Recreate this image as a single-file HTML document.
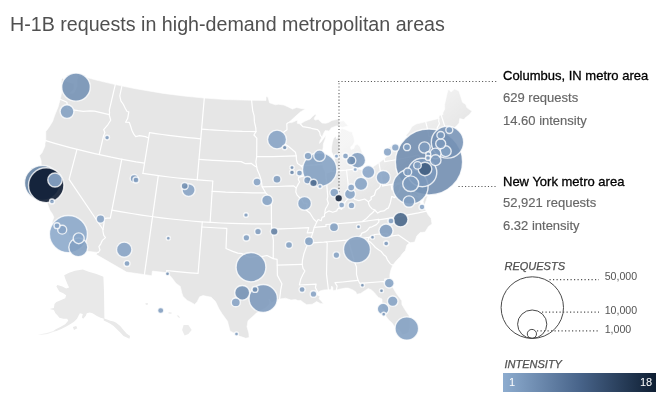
<!DOCTYPE html>
<html><head><meta charset="utf-8"><title>H-1B requests in high-demand metropolitan areas</title>
<style>
html,body{margin:0;padding:0;background:#fff;}
body{width:667px;height:409px;position:relative;overflow:hidden;font-family:"Liberation Sans",Arial,Helvetica,sans-serif;}
.t{position:absolute;white-space:nowrap;line-height:1;margin:0;}
h1.t{font-weight:normal;font-size:19.66px;color:#505050;left:10px;top:15px;letter-spacing:0px}
.n{font-size:13px;color:#000;left:503px;-webkit-text-stroke:0.3px #000;}
.d{font-size:13px;color:#666;left:503px;-webkit-text-stroke:0.15px #666;}
.l{font-size:11px;font-style:italic;color:#505050;left:504.5px;-webkit-text-stroke:0.25px #505050;}
.k{font-size:10.6px;color:#555;left:604.7px;}
.b{font-size:11px;color:#fff;}
</style></head><body>
<svg width="667" height="409" viewBox="0 0 667 409" style="position:absolute;left:0;top:0">
<defs><linearGradient id="fade" gradientUnits="userSpaceOnUse" x1="339" y1="81" x2="403.35" y2="170.2"><stop offset="0" stop-color="#fff" stop-opacity="0.62"/><stop offset="0.5" stop-color="#fff" stop-opacity="0.62"/><stop offset="1" stop-color="#fff" stop-opacity="0"/></linearGradient>
<linearGradient id="bar" x1="0" y1="0" x2="1" y2="0"><stop offset="0" stop-color="#8daccf"/><stop offset="0.5" stop-color="#48648a"/><stop offset="1" stop-color="#0e1e32"/></linearGradient></defs>
<g fill="#e9e9e9" stroke="none">
<path d="M82.8,269.4L88.7,271.8L96.5,274.1L103.4,276.7L104.0,291.4L104.4,318.8L100.5,317.8L96.5,315.8L92.6,313.3L89.7,312.5L86.8,313.3L85.8,315.8L83.2,318.8L81.9,317.4L82.8,313.9L79.9,313.3L78.5,315.8L77.0,318.8L74.0,321.7L70.1,324.2L66.2,326.6L61.3,328.9L56.4,330.9L52.5,331.7L55.4,329.5L60.3,327.0L65.2,324.2L68.2,320.7L67.2,318.8L63.3,318.8L59.4,317.8L57.4,315.2L55.4,313.3L53.9,309.9L49.6,309.0L53.9,308.0L54.5,304.1L56.4,302.1L59.4,300.7L62.3,299.6L65.2,298.2L66.2,295.3L63.3,293.3L59.4,291.4L56.4,286.5L57.4,285.1L62.3,286.5L66.2,288.4L69.1,287.4L67.2,283.5L65.2,278.6L64.2,275.3L69.1,272.8L75.0,270.8Z"/>
<path d="M103.7,318.3L107.0,319.4L110.3,320.7L113.6,321.6L116.2,322.7L120.2,326.0L123.5,330.0L126.8,333.7L130.1,335.9L129.4,338.8L126.8,337.4L123.5,335.9L120.2,332.6L116.9,329.3L113.6,326.0L110.3,323.8L107.0,322.0L103.7,320.5Z"/>
<path d="M72.9,327.1L76.2,326.0L77.3,328.2L74.0,330.0Z"/>
<path d="M183.6,324.9L188.4,324.9L191.7,329.9L188.4,334.1L184.6,335.5L182.1,329.9Z" fill="#ebebeb"/>
<path d="M176.7,315.3L178.8,315.8L180.2,317.9L178.2,317.3Z" fill="#ebebeb"/>
<path d="M145.3,303.2L147.9,302.9L147.6,305.0L145.9,304.7Z" fill="#ebebeb"/>
<path d="M168.5,312.3L171.7,312.6L171.4,313.8L168.5,313.5Z" fill="#ebebeb"/>
<path d="M56.4,330.5L53.1,330.9L47.6,332.8L41.7,334.0L37.8,334.8L41.7,334.8L47.6,334.0L53.1,332.1Z" fill="#f0f0f0"/>
</g>
<path d="M62.4,78.1L65.3,80.5L69.9,82.4L72.9,83.3L74.3,83.3L74.3,85.8L74.2,88.9L71.9,91.5L70.3,93.2L72.5,93.3L74.3,92.2L75.5,89.3L76.9,86.0L77.0,82.9L76.6,80.6L77.8,77.8L76.6,74.8L95.2,79.8L115.3,84.6L135.9,88.8L163.3,93.4L183.9,96.0L204.3,98.1L225.4,99.5L251.6,100.3L266.0,100.4L266.0,96.5L268.0,97.1L269.5,102.8L275.5,104.8L278.3,104.2L283.9,105.0L288.2,106.9L292.5,109.1L296.6,107.5L302.3,108.7L305.5,109.0L300.4,111.9L295.0,116.8L290.9,120.6L288.1,122.7L291.7,122.6L295.9,120.8L297.7,120.2L297.2,123.3L300.4,124.0L304.6,121.3L310.2,118.9L312.2,116.7L315.2,114.2L316.3,114.9L314.7,117.5L314.1,119.1L315.3,120.1L318.1,119.3L322.1,123.1L325.7,123.3L328.5,122.5L331.9,120.4L336.2,119.6L339.3,118.6L339.7,121.3L343.9,120.8L345.7,123.2L347.8,125.5L350.7,125.1L347.9,126.0L342.2,127.5L339.9,126.4L336.2,126.0L331.3,127.9L329.1,131.2L327.9,130.8L326.4,130.7L325.3,130.5L323.7,133.2L321.9,137.5L320.0,140.8L319.5,143.4L321.5,141.2L323.8,137.9L326.1,135.3L325.1,139.3L323.3,144.1L323.2,147.2L322.4,151.4L321.4,157.2L322.8,164.3L323.1,167.4L324.9,170.9L326.3,172.8L328.2,172.8L330.8,171.4L333.1,167.5L334.6,163.2L334.6,159.6L333.5,156.1L331.5,151.6L331.5,148.0L332.4,142.2L333.5,138.5L335.5,136.2L336.9,139.1L337.8,137.0L338.2,133.8L340.6,132.5L340.0,130.0L342.0,128.5L345.4,129.4L349.4,131.5L352.4,132.1L352.7,134.7L353.8,137.1L354.5,141.7L353.0,145.0L350.6,146.9L351.0,149.4L353.9,148.5L354.9,145.3L357.4,144.2L360.1,146.7L361.9,151.6L363.0,154.6L362.9,158.3L360.8,159.6L359.2,162.2L358.8,165.1L357.0,168.7L360.6,169.5L363.1,170.7L367.0,170.2L370.7,169.1L374.2,166.0L379.0,162.8L381.9,160.6L384.2,158.9L388.0,155.3L389.7,151.9L387.8,147.8L391.7,146.1L398.5,145.8L403.7,144.5L406.3,142.2L408.3,140.9L407.6,137.4L406.0,135.3L409.3,131.3L412.0,126.5L416.0,124.0L425.7,121.7L438.9,118.4L439.0,116.1L441.1,114.7L442.9,114.8L442.8,113.0L444.7,109.0L444.6,104.7L445.2,101.7L447.9,89.9L449.3,89.8L451.0,92.0L454.6,89.0L458.9,90.9L462.5,102.3L465.8,104.5L466.8,107.6L468.2,108.6L471.1,110.4L471.8,111.3L470.0,114.0L468.1,115.6L465.6,117.5L463.9,119.6L459.7,118.6L459.1,123.1L456.5,126.0L454.6,127.6L451.6,129.5L451.2,132.3L450.6,135.6L449.8,138.3L451.8,140.1L450.0,142.2L449.7,143.9L452.0,144.9L453.4,147.2L455.0,148.7L458.7,147.6L457.7,145.5L456.4,145.1L458.1,145.4L459.5,148.2L456.9,149.7L454.6,151.4L453.7,149.5L451.3,152.6L448.8,152.2L448.6,154.7L446.2,156.0L444.3,156.5L438.4,158.5L434.0,161.9L432.5,164.2L434.7,162.9L438.4,161.7L441.4,160.7L443.6,158.3L443.6,159.9L446.6,158.4L442.5,162.0L436.9,165.5L432.1,167.3L431.1,166.6L430.0,168.5L432.0,168.6L432.7,173.2L432.9,175.8L431.5,180.2L428.2,185.6L428.0,183.0L425.4,182.3L422.0,179.8L421.9,181.4L424.3,184.6L427.3,187.1L428.5,190.6L428.2,194.4L427.4,196.7L426.2,200.6L424.2,205.6L423.1,201.8L424.2,197.4L422.4,196.7L419.1,193.1L418.0,189.7L418.6,186.9L417.6,183.9L418.2,181.1L416.7,183.6L415.4,185.4L416.4,187.9L416.1,190.6L418.2,194.4L419.3,196.8L416.8,195.7L413.2,194.3L411.2,194.7L413.9,195.8L417.1,197.2L419.8,198.3L420.2,201.9L421.1,204.4L420.9,207.1L421.9,207.9L424.4,207.6L426.3,211.2L428.0,214.6L431.0,218.2L432.0,224.0L428.5,226.4L425.1,232.1L420.2,232.6L416.9,235.8L414.7,242.1L409.6,242.8L406.9,245.1L405.3,250.6L402.3,253.7L400.2,256.7L396.0,261.1L392.9,264.9L390.8,270.2L389.8,275.1L390.0,279.2L391.0,282.7L392.6,287.1L396.5,293.8L401.8,300.8L401.9,304.4L405.2,310.1L409.0,315.6L410.3,321.6L410.2,326.8L409.0,332.1L405.9,334.2L402.2,335.0L398.9,329.6L395.3,328.1L394.0,325.7L391.6,322.5L388.9,320.3L386.5,317.0L383.6,313.3L384.6,310.6L381.7,308.7L382.1,303.2L382.0,299.1L378.1,297.2L374.2,292.4L371.1,289.7L368.2,288.5L365.2,290.4L360.6,293.5L356.6,294.3L355.9,292.0L352.9,289.9L348.2,288.1L345.5,288.1L339.2,289.2L336.4,290.0L333.0,290.7L332.8,287.5L331.7,286.0L331.1,289.7L328.4,289.7L323.9,289.9L320.0,291.1L318.2,292.4L315.6,292.9L317.1,294.9L319.9,296.2L319.1,298.8L321.1,300.8L323.6,303.7L320.4,303.4L316.6,301.6L314.0,303.3L312.2,304.2L306.7,304.7L302.9,302.3L301.0,300.4L297.8,300.5L295.5,299.6L291.0,300.1L285.5,298.2L279.6,299.1L274.7,301.2L271.5,303.0L269.2,299.2L270.1,303.3L266.5,307.5L260.1,311.1L256.4,313.1L250.8,318.2L248.0,320.7L247.0,326.8L248.8,333.0L249.2,337.4L245.9,338.3L239.3,336.1L233.7,332.9L230.0,331.0L227.5,321.2L222.2,313.9L218.8,308.6L215.5,301.5L211.2,297.2L203.1,295.6L199.7,296.8L197.2,301.7L194.7,304.4L190.8,302.2L187.2,300.4L183.0,296.4L181.6,292.2L180.3,286.4L176.1,283.4L171.4,277.2L167.2,272.8L152.4,271.1L151.8,275.7L126.6,272.1L96.3,254.6L97.5,252.4L76.6,250.0L75.9,248.1L75.9,246.5L75.7,242.8L73.8,239.6L71.0,236.4L68.6,235.4L68.4,232.6L65.9,232.0L62.4,228.3L59.4,226.1L53.2,224.0L52.1,222.3L53.9,217.2L52.4,214.0L49.7,210.0L47.3,203.2L47.5,199.4L48.9,197.7L47.7,195.7L45.2,192.4L46.0,186.7L42.9,183.1L43.4,180.0L40.1,172.5L41.2,166.4L41.2,160.9L39.5,155.7L42.1,152.6L45.0,145.9L45.0,143.2L45.8,140.7L45.8,131.6L49.4,126.7L52.7,121.2L54.8,115.0L58.2,106.7L60.2,99.3L61.2,94.8L61.7,92.2L61.6,85.3L61.2,81.9L61.6,79.4Z" fill="#e6e6e6" stroke="#fff" stroke-width="0.6" stroke-linejoin="round"/>
<g fill="none" stroke="#fff" stroke-width="1.2" stroke-linejoin="round" stroke-linecap="round">
<path d="M60.2,99.3L64.2,101.0L66.9,102.3L67.4,105.6L67.4,108.1L70.8,109.6L78.1,110.7L83.2,111.3L90.1,110.9L94.5,111.2L109.2,114.6"/>
<path d="M115.3,84.6L109.3,110.2L109.6,112.9L109.2,114.6"/>
<path d="M109.2,114.6L110.7,120.2L107.8,124.8L103.7,129.7L104.9,132.6L103.5,136.0L99.2,154.6"/>
<path d="M45.8,140.7L53.9,143.1L62.0,145.4L70.2,147.6L78.4,149.7L86.5,151.7L94.8,153.6L103.0,155.4L111.3,157.2L119.6,158.8L127.9,160.3L136.2,161.8L144.5,163.1"/>
<path d="M77.0,149.3L69.1,179.4L103.0,229.5"/>
<path d="M111.9,210.1L110.3,218.2L107.2,218.1L104.1,218.6L104.0,223.3L103.0,229.5L102.9,231.0L103.8,235.4L105.5,237.6L102.3,240.4L100.8,243.8L98.9,246.6L100.0,250.0L98.4,252.5L97.5,252.4"/>
<path d="M121.8,159.2L111.9,210.1"/>
<path d="M111.9,210.1L121.7,211.9L131.6,213.5L141.5,215.1L151.5,216.5L161.4,217.8L171.4,219.0L181.3,220.0L191.3,221.0L201.3,221.8L211.3,222.4L221.4,223.0L231.4,223.4L241.4,223.7L251.4,223.9L261.5,223.9L271.5,223.8"/>
<path d="M121.9,86.0L119.8,95.9L120.9,100.9L123.4,104.5L125.2,108.2L127.1,111.5L128.8,111.8L127.7,118.4L125.6,122.2L129.3,122.4L130.5,125.7L131.9,130.2L133.8,134.2L135.7,136.6L139.6,135.7L145.4,136.6L148.6,138.0"/>
<path d="M149.5,132.6L142.9,173.4"/>
<path d="M149.5,132.6L155.9,133.6L162.3,134.5L168.7,135.3L175.1,136.1L181.5,136.9L187.9,137.6L194.3,138.2L200.8,138.8"/>
<path d="M142.9,173.4L151.6,174.7L160.3,175.9L169.0,177.0L177.7,178.0L186.5,178.9L195.3,179.7L204.0,180.4L212.8,181.0"/>
<path d="M204.3,98.1L197.2,179.9"/>
<path d="M201.6,129.1L208.4,129.7L215.2,130.1L222.0,130.5L228.8,130.9L235.6,131.1L242.4,131.4L249.2,131.5L256.0,131.6"/>
<path d="M199.0,159.3L206.0,159.8L213.0,160.3L220.0,160.7L227.0,161.1L234.1,161.4L241.1,161.6L245.6,163.7L251.0,163.3L254.7,165.9L256.7,167.1"/>
<path d="M212.1,191.3L218.8,191.7L225.5,192.1L232.2,192.3L238.9,192.5L245.6,192.7L252.3,192.8L259.0,192.8L265.7,192.8"/>
<path d="M212.8,181.0L210.1,222.4"/>
<path d="M158.3,175.6L144.4,274.7"/>
<path d="M202.3,221.8L198.1,273.4L198.1,273.4L190.2,272.8L182.3,272.1L174.5,271.3L166.6,270.5L167.2,272.8"/>
<path d="M201.9,227.0L210.2,227.5L218.5,228.0L226.8,228.4L226.0,248.5L232.7,251.4L237.8,253.1L242.1,253.7L249.7,257.5L254.9,256.5L261.8,256.5L267.0,255.5L273.2,258.6"/>
<path d="M271.5,223.8L271.6,229.0L273.4,240.4L273.2,258.6L277.1,259.4L277.4,275.4L279.6,279.5L281.9,283.8L280.7,289.8L280.4,292.9L279.6,299.1"/>
<path d="M277.2,265.1L285.5,264.9L293.8,264.6L302.2,264.3"/>
<path d="M271.6,229.0L280.9,228.8L290.2,228.5L299.5,228.1L308.8,227.6L307.2,232.9L312.8,232.6"/>
<path d="M271.5,223.8L271.3,201.9L268.9,199.5L267.3,194.4L265.7,192.8L262.1,186.6L261.3,180.4L259.3,174.2L257.4,170.1L256.7,167.1L255.9,161.8L256.7,156.7L256.8,138.1L253.9,135.0L256.0,131.6L255.8,127.9L254.4,121.9L254.1,115.6L252.8,111.2L252.1,105.4L251.6,100.3"/>
<path d="M256.7,156.7L264.6,156.6L272.5,156.6L280.4,156.4L288.3,156.1L296.2,155.8"/>
<path d="M262.1,186.8L270.0,186.7L277.9,186.5L285.8,186.2L293.7,185.9L296.2,188.0"/>
<path d="M288.1,122.7L286.8,123.7L287.0,129.7L283.8,132.1L282.9,135.0L284.7,136.7L284.1,141.3L283.8,143.4L287.6,145.8L290.7,148.3L295.4,152.2L296.2,155.8L296.5,159.9L297.5,163.5L301.0,165.8L303.1,168.3L305.3,172.3L302.8,176.1L298.6,177.4L298.3,179.4L299.6,182.0L298.5,183.6L296.2,188.0L295.8,192.0L297.1,195.1L301.8,200.0L303.6,203.0L306.8,203.3L307.1,205.6L306.0,210.1L309.9,213.0L313.6,219.0L316.7,221.9L315.6,224.6L314.2,227.3L312.8,232.6L311.1,237.9L310.3,241.7L308.5,243.2L306.2,247.5L303.9,253.8L302.5,260.1L302.2,264.3L303.0,268.3L304.9,271.0L302.9,274.5L300.7,279.3L299.4,285.0L299.4,285.0L307.7,284.6L316.1,284.1L315.4,287.6L317.3,291.2L318.2,292.4"/>
<path d="M300.4,124.0L302.8,126.6L310.1,127.8L312.4,128.7L317.6,129.6L319.6,132.0L320.2,135.1L321.9,137.5"/>
<path d="M301.0,165.8L308.3,165.4L315.6,164.9L322.8,164.3"/>
<path d="M325.6,172.2L327.8,196.6L327.1,199.3L328.4,203.5L326.9,206.6L325.5,208.8L324.9,211.9L325.2,212.9"/>
<path d="M316.7,221.9L318.2,219.5L321.1,220.8L322.1,217.4L324.5,216.4L324.5,214.0L325.2,212.9L328.8,210.9L332.8,212.3L336.7,210.9L337.4,209.2L338.9,208.0L341.5,209.3L343.2,206.4L345.5,201.3L349.7,197.0L352.3,196.7L355.0,199.5L358.8,200.6L364.7,199.0L368.4,201.7L371.3,199.4L371.0,197.1L374.4,195.3L375.5,191.8L376.0,190.3L379.3,187.7L380.2,186.0L380.7,182.6L381.1,179.1L381.3,176.5"/>
<path d="M379.0,162.8L382.8,185.9"/>
<path d="M384.2,158.9L384.7,161.7L384.7,161.7L391.4,160.5L398.1,159.3L404.8,158.0L411.4,156.6L418.1,155.2L421.3,158.8L424.5,160.7L422.2,165.2L422.3,168.6L424.0,170.9L426.9,172.9L424.6,176.1L422.5,177.6L422.0,179.8"/>
<path d="M349.7,197.0L346.5,170.2"/>
<path d="M328.1,171.5L334.2,171.2L340.4,170.7L346.5,170.2L357.0,168.6"/>
<path d="M314.2,227.3L326.0,226.4L325.9,224.5L325.9,224.5L333.1,224.1L340.4,223.5L347.7,222.9L354.9,222.3L362.2,221.6L362.2,221.6L370.4,220.5L378.7,219.4L378.7,219.8L386.7,218.6L394.6,217.3L402.6,215.9L410.5,214.4L418.4,212.9L426.3,211.2"/>
<path d="M362.2,221.6L366.6,218.4L369.5,215.3L372.5,212.8L374.8,210.0L371.9,208.7L369.9,206.4L368.8,204.3L368.4,201.7"/>
<path d="M378.7,219.4L378.9,221.9L376.4,224.6L372.0,226.8L369.6,227.4L367.4,230.3L365.1,231.9L361.9,233.1L361.2,234.2L360.9,235.6L358.9,236.6L359.0,238.8"/>
<path d="M369.3,237.3L361.7,238.3L354.1,239.2L346.5,240.1L338.9,240.8L331.3,241.5L323.7,242.2L316.1,242.7L308.5,243.2"/>
<path d="M369.3,237.3L374.8,234.5L386.2,233.3L386.4,234.3L387.3,233.7L388.9,236.4L398.4,235.0L409.6,242.8"/>
<path d="M369.3,237.3L367.8,240.5L370.9,242.6L373.4,245.1L375.4,247.5L378.9,250.1L381.3,251.6L384.0,255.1L386.0,256.4L387.4,259.8L390.2,263.6L391.8,264.9L392.9,264.9"/>
<path d="M348.2,240.0L354.3,261.4L356.5,267.0L356.5,270.2L356.5,274.3L357.3,277.3L358.1,280.3L359.7,283.3L383.6,281.5L385.2,283.4L384.8,279.2L390.0,279.2"/>
<path d="M358.1,280.3L350.4,281.2L342.7,282.0L335.0,282.7L337.1,286.1L336.4,290.0"/>
<path d="M326.2,242.0L327.2,242.9L326.5,274.1L328.4,289.7"/>
<path d="M382.8,185.9L390.3,184.7L397.7,183.4L405.1,182.0L412.5,180.5L419.9,179.0"/>
<path d="M391.0,184.5L392.0,189.8L394.5,186.6L396.8,184.3L399.7,184.0L401.2,182.9L404.0,183.4L405.5,186.1L407.9,186.7L411.8,189.3L410.8,194.8"/>
<path d="M405.5,186.1L405.1,188.2L400.4,185.6L399.7,190.6L397.6,193.4L394.8,197.6L391.7,196.4L390.4,202.7L388.4,208.0L386.5,208.9L383.9,210.9L380.2,211.4L377.7,213.1L374.8,210.0"/>
<path d="M419.9,179.0L423.2,191.7L428.5,190.6"/>
<path d="M419.9,179.0L420.7,177.7L422.5,177.6"/>
<path d="M422.9,197.1L427.9,195.2"/>
<path d="M424.5,160.7L431.4,162.8L431.3,166.6"/>
<path d="M433.3,162.4L434.0,160.1L431.9,151.6L431.9,144.1L430.0,136.1L428.8,135.8L427.7,129.8L425.7,121.7"/>
<path d="M431.9,151.7L438.3,150.2L444.7,148.7L447.8,148.0L448.1,149.1L448.8,150.2L450.1,151.1L451.1,152.6"/>
<path d="M444.7,148.7L446.5,155.7"/>
<path d="M431.9,144.2L436.8,143.2L441.7,142.1L446.5,141.0L448.3,138.7L449.6,138.4"/>
<path d="M437.9,142.9L436.9,137.1L436.9,131.2L437.2,127.9L439.5,123.6L438.7,121.2L438.9,118.4"/>
<path d="M449.6,136.2L447.1,133.7L443.6,122.6L441.1,114.7"/>
</g>
<rect x="339" y="60" width="190" height="150" fill="url(#fade)"/>
<g fill="none" stroke="#555" stroke-width="1.05" stroke-dasharray="1.1 2.17">
<path d="M339,195.5V81.4"/><path d="M338.2,81.4H497.5"/>
<path d="M458.5,186.4H497.5"/>
</g>
<g stroke="#fff" stroke-opacity="0.8" stroke-width="1.4" fill-opacity="0.88">
<ellipse cx="429.0" cy="162.0" rx="33.60" ry="33.00" fill="#6e8bae"/>
<ellipse cx="68.4" cy="234.1" rx="19.00" ry="18.66" fill="#8aa7c9"/>
<ellipse cx="42.3" cy="183.0" rx="17.80" ry="17.48" fill="#617fa2"/>
<ellipse cx="46.2" cy="185.2" rx="17.70" ry="17.38" fill="#08162c"/>
<ellipse cx="410.4" cy="186.7" rx="17.70" ry="17.38" fill="#7694b6"/>
<ellipse cx="319.7" cy="169.6" rx="17.20" ry="16.89" fill="#829fc1"/>
<ellipse cx="447.5" cy="142.2" rx="16.20" ry="15.91" fill="#7592b5"/>
<ellipse cx="251.0" cy="267.2" rx="14.90" ry="14.63" fill="#7f9cbe"/>
<ellipse cx="422.3" cy="172.5" rx="14.50" ry="14.24" fill="#7c99bc"/>
<ellipse cx="76.0" cy="87.1" rx="14.30" ry="14.04" fill="#7391b4"/>
<ellipse cx="263.2" cy="298.5" rx="14.20" ry="13.94" fill="#7c99bc"/>
<ellipse cx="357.0" cy="249.6" rx="13.50" ry="13.26" fill="#7f9cbe"/>
<ellipse cx="406.8" cy="328.5" rx="11.80" ry="11.59" fill="#829fc1"/>
<ellipse cx="78.3" cy="247.3" rx="9.50" ry="9.33" fill="#829fc1"/>
<ellipse cx="277.0" cy="139.5" rx="9.50" ry="9.33" fill="#86a3c5"/>
<ellipse cx="357.5" cy="160.2" rx="8.10" ry="7.95" fill="#7f9cbe"/>
<ellipse cx="410.7" cy="183.7" rx="8.00" ry="7.86" fill="#7f9cbe"/>
<ellipse cx="124.2" cy="249.7" rx="7.70" ry="7.56" fill="#86a3c5"/>
<ellipse cx="242.2" cy="292.8" rx="7.50" ry="7.37" fill="#7391b4"/>
<ellipse cx="400.6" cy="219.6" rx="7.40" ry="7.27" fill="#466488"/>
<ellipse cx="55.0" cy="180.0" rx="7.20" ry="7.07" fill="#8daacc"/>
<ellipse cx="383.3" cy="177.5" rx="7.10" ry="6.97" fill="#86a3c5"/>
<ellipse cx="386.0" cy="230.8" rx="7.00" ry="6.87" fill="#7f9cbe"/>
<ellipse cx="67.0" cy="111.6" rx="6.90" ry="6.78" fill="#829fc1"/>
<ellipse cx="304.5" cy="203.4" rx="6.90" ry="6.78" fill="#84a2c4"/>
<ellipse cx="425.0" cy="169.0" rx="6.80" ry="6.68" fill="#405c7f"/>
<ellipse cx="361.0" cy="183.8" rx="6.70" ry="6.58" fill="#84a2c4"/>
<ellipse cx="188.6" cy="190.1" rx="6.50" ry="6.38" fill="#86a3c5"/>
<ellipse cx="368.3" cy="172.0" rx="6.50" ry="6.38" fill="#87a4c7"/>
<ellipse cx="319.5" cy="155.7" rx="5.80" ry="5.70" fill="#86a3c5"/>
<ellipse cx="409.0" cy="201.6" rx="5.80" ry="5.70" fill="#829fc1"/>
<ellipse cx="383.1" cy="309.0" rx="5.80" ry="5.70" fill="#84a2c4"/>
<ellipse cx="424.5" cy="147.5" rx="5.70" ry="5.60" fill="#7f9cbe"/>
<ellipse cx="78.7" cy="238.3" rx="5.50" ry="5.40" fill="#8aa7c9"/>
<ellipse cx="267.2" cy="200.4" rx="5.50" ry="5.40" fill="#84a2c4"/>
<ellipse cx="350.0" cy="194.0" rx="5.50" ry="5.40" fill="#84a2c4"/>
<ellipse cx="445.7" cy="151.2" rx="5.50" ry="5.40" fill="#829fc1"/>
<ellipse cx="435.5" cy="153.5" rx="5.50" ry="5.40" fill="#7c99bc"/>
<ellipse cx="435.5" cy="160.2" rx="5.50" ry="5.40" fill="#7c99bc"/>
<ellipse cx="392.7" cy="301.2" rx="5.30" ry="5.20" fill="#84a2c4"/>
<ellipse cx="440.7" cy="143.7" rx="5.00" ry="4.91" fill="#7c99bc"/>
<ellipse cx="389.2" cy="283.2" rx="4.90" ry="4.81" fill="#84a2c4"/>
<ellipse cx="351.2" cy="160.5" rx="4.60" ry="4.52" fill="#718eb1"/>
<ellipse cx="62.2" cy="229.7" rx="4.50" ry="4.42" fill="#86a3c5"/>
<ellipse cx="309.0" cy="241.3" rx="4.50" ry="4.42" fill="#829fc1"/>
<ellipse cx="235.8" cy="302.4" rx="4.50" ry="4.42" fill="#86a3c5"/>
<ellipse cx="334.0" cy="227.2" rx="4.50" ry="4.42" fill="#829fc1"/>
<ellipse cx="334.3" cy="192.6" rx="4.40" ry="4.32" fill="#84a2c4"/>
<ellipse cx="100.5" cy="219.0" rx="4.20" ry="4.12" fill="#86a3c5"/>
<ellipse cx="387.5" cy="152.0" rx="4.20" ry="4.12" fill="#86a3c5"/>
<ellipse cx="134.2" cy="178.5" rx="4.00" ry="3.93" fill="#7f9cbe"/>
<ellipse cx="257.0" cy="182.0" rx="4.00" ry="3.93" fill="#86a3c5"/>
<ellipse cx="277.0" cy="179.2" rx="4.00" ry="3.93" fill="#7f9cbe"/>
<ellipse cx="407.7" cy="172.0" rx="4.00" ry="3.93" fill="#7f9cbe"/>
<ellipse cx="274.2" cy="231.5" rx="3.80" ry="3.73" fill="#6280a3"/>
<ellipse cx="308.0" cy="156.0" rx="3.80" ry="3.73" fill="#829fc1"/>
<ellipse cx="307.5" cy="180.2" rx="3.80" ry="3.73" fill="#7c99bc"/>
<ellipse cx="313.5" cy="183.0" rx="3.80" ry="3.73" fill="#4d6b8f"/>
<ellipse cx="338.7" cy="198.3" rx="3.80" ry="3.73" fill="#112139"/>
<ellipse cx="417.5" cy="165.4" rx="3.80" ry="3.73" fill="#7f9cbe"/>
<ellipse cx="440.7" cy="135.2" rx="3.80" ry="3.73" fill="#7f9cbe"/>
<ellipse cx="395.3" cy="147.5" rx="3.80" ry="3.73" fill="#86a3c5"/>
<ellipse cx="184.7" cy="186.0" rx="3.50" ry="3.44" fill="#718eb1"/>
<ellipse cx="289.0" cy="245.0" rx="3.50" ry="3.44" fill="#829fc1"/>
<ellipse cx="351.2" cy="187.5" rx="3.50" ry="3.44" fill="#86a3c5"/>
<ellipse cx="449.3" cy="130.0" rx="3.50" ry="3.44" fill="#829fc1"/>
<ellipse cx="407.0" cy="147.2" rx="3.50" ry="3.44" fill="#829fc1"/>
<ellipse cx="258.0" cy="231.5" rx="3.30" ry="3.24" fill="#7f9cbe"/>
<ellipse cx="246.4" cy="237.8" rx="3.30" ry="3.24" fill="#829fc1"/>
<ellipse cx="351.5" cy="205.4" rx="3.30" ry="3.24" fill="#86a3c5"/>
<ellipse cx="336.4" cy="255.1" rx="3.30" ry="3.24" fill="#84a2c4"/>
<ellipse cx="313.5" cy="294.0" rx="3.30" ry="3.24" fill="#86a3c5"/>
<ellipse cx="160.7" cy="310.5" rx="3.10" ry="3.04" fill="#7f9cbe"/>
<ellipse cx="57.0" cy="225.7" rx="3.00" ry="2.95" fill="#86a3c5"/>
<ellipse cx="127.0" cy="263.6" rx="3.00" ry="2.95" fill="#829fc1"/>
<ellipse cx="136.0" cy="180.0" rx="3.00" ry="2.95" fill="#7f9cbe"/>
<ellipse cx="299.5" cy="173.1" rx="3.00" ry="2.95" fill="#829fc1"/>
<ellipse cx="255.0" cy="289.4" rx="3.00" ry="2.95" fill="#718eb1"/>
<ellipse cx="345.5" cy="156.0" rx="3.00" ry="2.95" fill="#829fc1"/>
<ellipse cx="341.7" cy="205.0" rx="3.00" ry="2.95" fill="#86a3c5"/>
<ellipse cx="391.0" cy="221.0" rx="3.00" ry="2.95" fill="#829fc1"/>
<ellipse cx="302.1" cy="289.6" rx="3.00" ry="2.95" fill="#7f9cbe"/>
<ellipse cx="422.0" cy="207.0" rx="2.90" ry="2.85" fill="#86a3c5"/>
<ellipse cx="52.0" cy="201.4" rx="2.50" ry="2.46" fill="#86a3c5"/>
<ellipse cx="386.2" cy="243.5" rx="2.50" ry="2.46" fill="#7c99bc"/>
<ellipse cx="428.3" cy="154.2" rx="2.50" ry="2.46" fill="#7f9cbe"/>
<ellipse cx="428.0" cy="158.0" rx="2.50" ry="2.46" fill="#7f9cbe"/>
<ellipse cx="107.1" cy="137.6" rx="2.40" ry="2.36" fill="#7f9cbe"/>
<ellipse cx="292.0" cy="172.4" rx="2.40" ry="2.36" fill="#6a87aa"/>
<ellipse cx="284.7" cy="147.5" rx="2.30" ry="2.26" fill="#718eb1"/>
<ellipse cx="246.0" cy="215.0" rx="2.30" ry="2.26" fill="#7f9cbe"/>
<ellipse cx="292.0" cy="167.6" rx="2.10" ry="2.06" fill="#718eb1"/>
<ellipse cx="320.0" cy="186.5" rx="2.10" ry="2.06" fill="#86a3c5"/>
<ellipse cx="336.5" cy="156.2" rx="2.10" ry="2.06" fill="#86a3c5"/>
<ellipse cx="355.2" cy="169.5" rx="2.10" ry="2.06" fill="#86a3c5"/>
<ellipse cx="168.3" cy="238.2" rx="2.00" ry="1.96" fill="#7c99bc"/>
<ellipse cx="167.5" cy="273.8" rx="2.00" ry="1.96" fill="#718eb1"/>
<ellipse cx="236.5" cy="334.0" rx="2.00" ry="1.96" fill="#7f9cbe"/>
<ellipse cx="358.5" cy="226.7" rx="2.00" ry="1.96" fill="#7592b5"/>
<ellipse cx="372.5" cy="237.2" rx="2.00" ry="1.96" fill="#7592b5"/>
<ellipse cx="362.4" cy="285.2" rx="2.00" ry="1.96" fill="#718eb1"/>
<ellipse cx="381.5" cy="290.7" rx="2.00" ry="1.96" fill="#718eb1"/>
<ellipse cx="383.7" cy="314.2" rx="2.00" ry="1.96" fill="#7895b8"/>
</g>
<g fill="none" stroke="#4a4a4a" stroke-width="1">
<ellipse cx="532.3" cy="307.6" rx="31.2" ry="30.8"/><ellipse cx="532.2" cy="324.2" rx="14.6" ry="14.2"/><ellipse cx="531.9" cy="333.9" rx="4.6" ry="4.5"/>
</g>
<g fill="none" stroke="#555" stroke-width="1.2" stroke-dasharray="1.2 2.3">
<path d="M549.5,279.6H599"/><path d="M542,312.2H599"/><path d="M537,330.9H599"/>
</g>
<rect x="503" y="373" width="153" height="19" fill="url(#bar)"/>
</svg>
<h1 class="t">H-1B requests in high-demand metropolitan areas</h1>
<div class="t n" style="top:69px">Columbus, IN metro area</div>
<div class="t d" style="top:91px">629 requests</div>
<div class="t d" style="top:114px">14.60 intensity</div>
<div class="t n" style="top:175px">New York metro area</div>
<div class="t d" style="top:196px">52,921 requests</div>
<div class="t d" style="top:219px">6.32 intensity</div>
<div class="t l" style="top:261px">REQUESTS</div>
<div class="t k" style="top:271px">50,000</div>
<div class="t k" style="top:305px">10,000</div>
<div class="t k" style="top:324px">1,000</div>
<div class="t l" style="top:359px">INTENSITY</div>
<div class="t b" style="left:509px;top:377px">1</div>
<div class="t b" style="left:640px;top:377px">18</div>
</body></html>
